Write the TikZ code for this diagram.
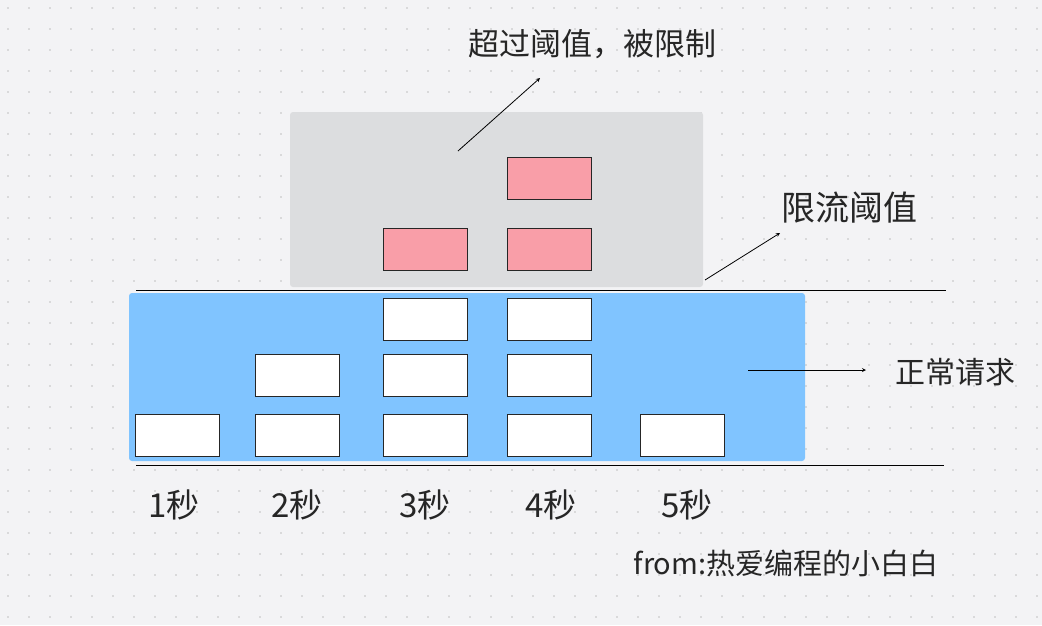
\documentclass[tikz,border=0pt]{standalone}
\usepackage{fontspec}
\setmainfont{Noto Sans CJK SC}
\begin{document}
\begin{tikzpicture}[x=1pt,y=-1pt,
  req/.style={draw=black!85,line width=0.8pt,minimum width=84pt,minimum height=42pt,anchor=north west,inner sep=0pt,fill=white},
  lim/.style={req,fill=pinkc},
  arr/.style={-stealth,line width=0.8pt},
  lbl/.style={text=black!85,inner sep=0pt}]
\definecolor{bgc}{RGB}{243,243,245}
\definecolor{pinkc}{RGB}{249,158,168}
\definecolor{bluec}{RGB}{128,196,255}
\definecolor{grayc}{RGB}{220,221,223}
\fill[bgc] (0,0) rectangle (1042,625);
\useasboundingbox (0,0) rectangle (1042,625);
\foreach \i in {0,...,49}{\foreach \j in {0,...,29}{\fill[black!25] (8+21*\i,8+21*\j) circle (0.8pt);}}
\fill[grayc,rounded corners=3pt] (290,112) rectangle (703,287);
\fill[bluec,rounded corners=3pt] (129,293) rectangle (805,461);
\coordinate (l1a) at (136,290); \coordinate (l1b) at (946,290);
\coordinate (l2a) at (136,465); \coordinate (l2b) at (944,465);
\draw[line width=0.8pt] (l1a) -- (l1b);
\draw[line width=0.8pt] (l2a) -- (l2b);
\node[req] (a1) at (135,414) {};
\node[req] (b1) at (255,414) {};
\node[req] (b2) at (255,354) {};
\node[req] (c1) at (383,414) {};
\node[req] (c2) at (383,354) {};
\node[req] (c3) at (383,298) {};
\node[req] (d1) at (507,414) {};
\node[req] (d2) at (507,354) {};
\node[req] (d3) at (507,298) {};
\node[req] (e1) at (640,414) {};
\node[lim] (c4) at (383,228) {};
\node[lim] (d4) at (507,228) {};
\node[lim] (d5) at (507,157) {};
\node[lbl,font=\fontsize{31}{34}\selectfont] (t1) at (592,44) {超过阈值，被限制};
\node[lbl,font=\fontsize{34}{38}\selectfont] (t2) at (849,208) {限流阈值};
\node[lbl,font=\fontsize{30}{34}\selectfont] (t3) at (955,372) {正常请求};
\coordinate (s1) at (458,151); \coordinate (e1a) at (540,78);
\coordinate (s2) at (705,280); \coordinate (e2a) at (780,233);
\coordinate (s3) at (748,370); \coordinate (e3a) at (866,370);
\draw[arr] (s1) -- (e1a);
\draw[arr] (s2) -- (e2a);
\draw[arr] (s3) -- (e3a);
\foreach \n/\x in {1/174,2/297,3/425,4/551,5/687}{\node[lbl,font=\fontsize{33}{36}\selectfont] (sec\n) at (\x,505) {{\n}秒};}
\node[lbl,font=\fontsize{29}{32}\selectfont] (from) at (786,563) {from:热爱编程的小白白};
\end{tikzpicture}
\end{document}
